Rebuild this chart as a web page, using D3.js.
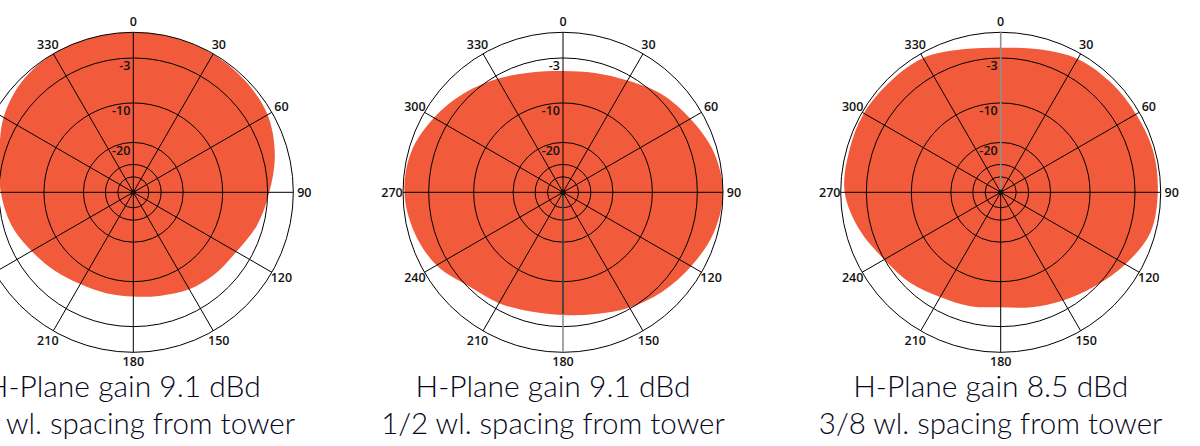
<!DOCTYPE html>
<html>
<head>
<meta charset="utf-8">
<script src="https://cdn.jsdelivr.net/npm/d3@7"></script>
<style>
  html, body { margin: 0; padding: 0; background: #fff; }
  svg { display: block; }
</style>
</head>
<body>
<svg id="chart" width="1200" height="446"></svg>
<script>
// ---- data ----
const angles = [0, 15, 30, 45, 60, 75, 90, 105, 120, 135, 150, 165,
                180, 195, 210, 225, 240, 255, 270, 285, 300, 315, 330, 345];
// relative gain (dB) per angle
const gain1 = [0, 0, -0.05, -0.22, -0.54, -1.51, -2.79, -3.83, -5.08, -5.59, -6.12, -6.91,
               -7.34, -7.31, -7.07, -6.28, -5.30, -4.06, -3.24, -2.46, -1.13, -0.32, 0, 0];
const gain2 = [-4.75, -4.44, -3.69, -2.41, -1.45, -0.43, 0, -0.43, -1.34, -2.23, -3.17, -4.10,
               -4.55, -4.44, -3.83, -3.17, -1.57, -0.66, -0.15, -0.32, -1.22, -2.29, -3.43, -4.37];
const gain3 = [-1.73, -1.34, -0.66, -0.49, -0.40, -0.22, -0.32, -0.54, -1.81, -3.17, -4.24, -5.08,
               -5.67, -5.23, -4.80, -3.83, -2.98, -1.57, -0.43, -0.32, -0.22, -0.38, -0.54, -1.34];
const titles1 = ["H-Plane gain 9.1 dBd", "H-Plane gain 9.1 dBd", "H-Plane gain 8.5 dBd"];
const titles2 = ["1/4 wl. spacing from tower", "1/2 wl. spacing from tower", "3/8 wl. spacing from tower"];
const ringLevels = [0, -3, -10, -20, -30, -40];
const ringLabels = ["-3", "-10", "-20"];
const spokeAngles = [0, 30, 60, 90, 120, 150, 180, 210, 240, 270, 300, 330];
const spokeLabels = ["0", "30", "60", "90", "120", "150", "180", "210", "240", "270", "300", "330"];

// ---- layout ----
const svg = d3.select("#chart");
const R = 160;
const centers = [[133.3, 192.3], [563, 192.3], [1000.7, 192.3]];
const greySpoke = [null, 180, 0];
const series = [gain1, gain2, gain3];
const fillColor = "#f15a3b";

// ARRL-style log scale: each 2 dB = factor 0.89 in radius
const arrl = d => Math.pow(0.89, -d / 2);
const rLin = d3.scaleLinear().domain([0, 1]).range([0, R]);
const rScale = d => rLin(arrl(d));
const aScale = d3.scaleLinear().domain([0, 360]).range([0, 2 * Math.PI]);

const labelFont = "'Open Sans', 'Liberation Sans', sans-serif";
const titleFont = "Lato, 'Open Sans', sans-serif";

series.forEach((gains, i) => {
  const [cx, cy] = centers[i];
  const g = svg.append("g").attr("transform", `translate(${cx},${cy})`);
  const pts = angles.map((a, k) => ({ a, v: gains[k] }));

  const line = d3.lineRadial()
    .angle(d => aScale(d.a))
    .radius(d => rScale(d.v))
    .curve(d3.curveCatmullRomClosed.alpha(0.5));

  g.append("path")
    .attr("d", line(pts))
    .attr("fill", fillColor)
    .attr("stroke", "none");

  // rings
  g.selectAll("circle.ring").data(ringLevels).join("circle")
    .attr("class", "ring")
    .attr("r", d => rScale(d))
    .attr("fill", "none")
    .attr("stroke", "#000")
    .attr("stroke-width", 1);

  // spokes
  const xEnd = (a, r) => r * Math.sin(aScale(a));
  const yEnd = (a, r) => -r * Math.cos(aScale(a));
  g.selectAll("line.spoke").data(spokeAngles).join("line")
    .attr("class", "spoke")
    .attr("x1", 0).attr("y1", 0)
    .attr("x2", d => xEnd(d, R))
    .attr("y2", d => yEnd(d, R))
    .attr("stroke", d => d === greySpoke[i] ? "#8f8f8f" : "#000")
    .attr("stroke-width", d => d === greySpoke[i] ? 1.6 : 1);

  // in chart 2 the grey spoke is black inside the pattern
  if (i === 1) {
    const a = greySpoke[i];
    const rIn = rScale(gains[angles.indexOf(a)]);
    g.append("line")
      .attr("x1", 0).attr("y1", 0)
      .attr("x2", xEnd(a, rIn - 1)).attr("y2", yEnd(a, rIn - 1))
      .attr("stroke", "#000").attr("stroke-width", 1);
  }

  g.append("circle").attr("r", 2.6).attr("fill", "#111");

  // angle labels
  g.selectAll("text.ang").data(spokeAngles).join("text")
    .attr("class", "ang")
    .attr("x", d => xEnd(d, 171))
    .attr("y", d => yEnd(d, d === 180 ? 169 : 171))
    .attr("text-anchor", "middle")
    .attr("dominant-baseline", "central")
    .attr("font-family", labelFont)
    .attr("font-weight", 600)
    .attr("font-size", 12.5)
    .attr("fill", "#111")
    .text((d, k) => spokeLabels[k]);

  // ring labels
  g.selectAll("text.ringlab").data(ringLabels).join("text")
    .attr("class", "ringlab")
    .attr("x", -3)
    .attr("y", d => -rScale(+d) + 8)
    .attr("text-anchor", "end")
    .attr("dominant-baseline", "central")
    .attr("font-family", labelFont)
    .attr("font-weight", 600)
    .attr("font-size", 12.5)
    .attr("fill", "#111")
    .text(d => d);

  // titles (slightly left of the chart centre, as in the reference)
  const tx = cx - 10;
  svg.append("text")
    .attr("x", tx).attr("y", 397)
    .attr("text-anchor", "middle")
    .attr("font-family", titleFont)
    .attr("font-weight", 300)
    .attr("font-size", 30)
    .attr("fill", "#05051a")
    .text(titles1[i]);
  svg.append("text")
    .attr("x", tx).attr("y", 434)
    .attr("text-anchor", "middle")
    .attr("font-family", titleFont)
    .attr("font-weight", 300)
    .attr("font-size", 29.5)
    .attr("fill", "#05051a")
    .text(titles2[i]);
});
</script>
</body>
</html>
